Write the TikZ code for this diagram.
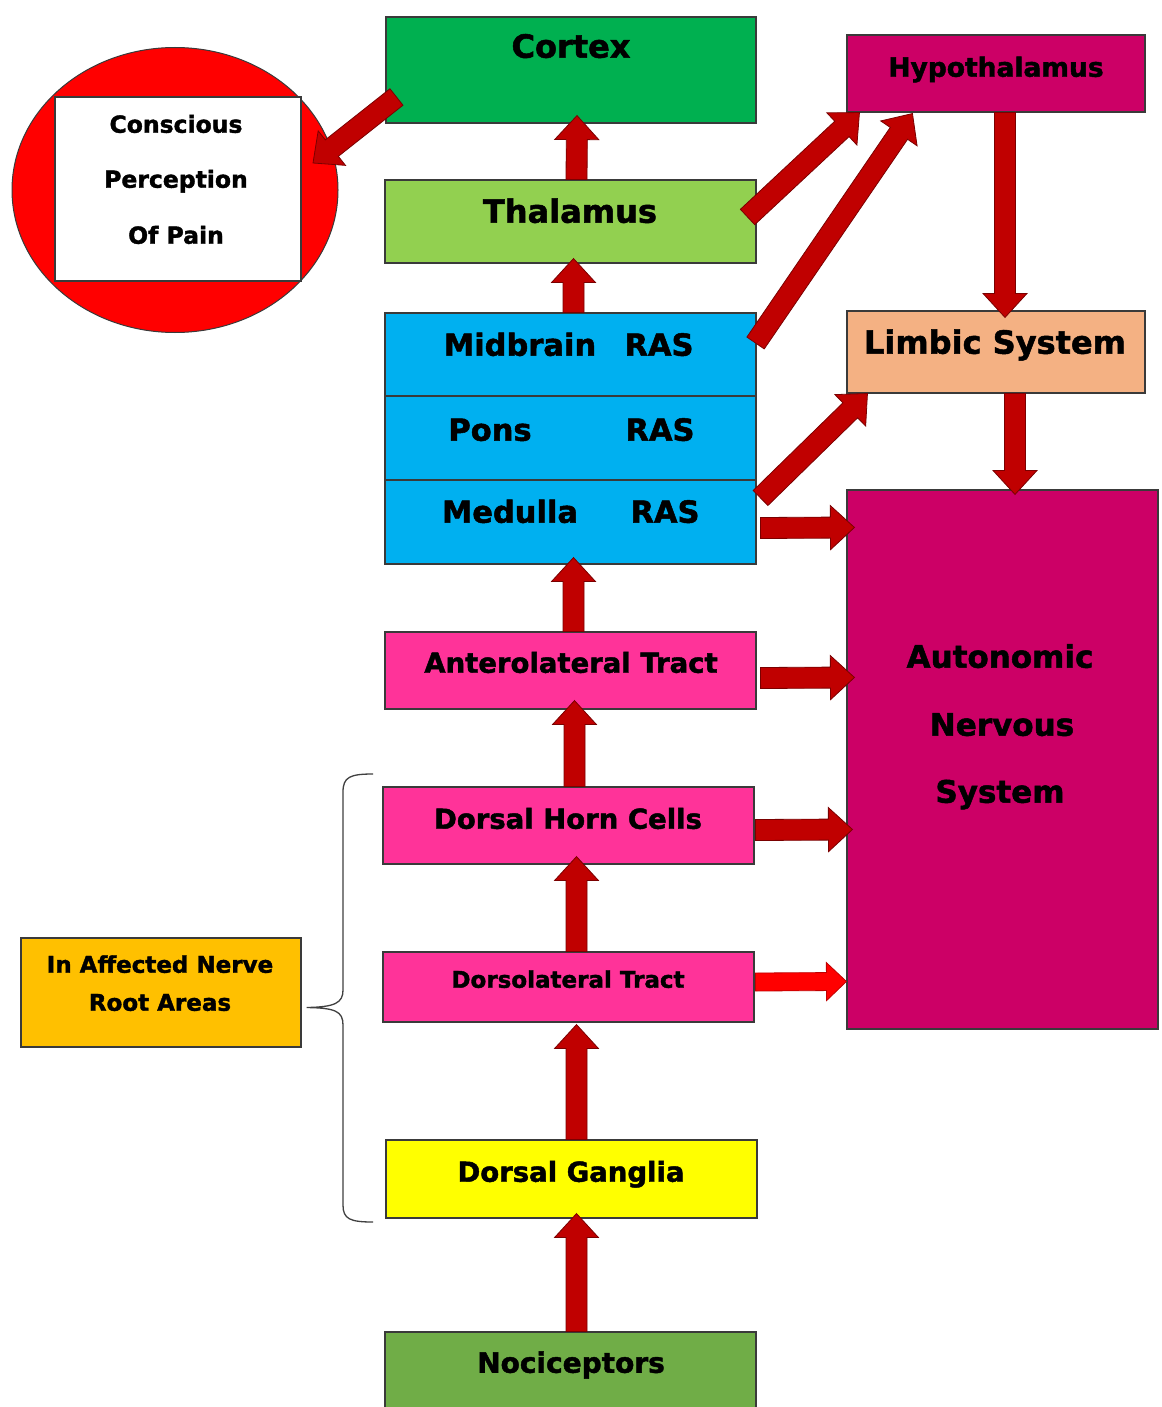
\documentclass[tikz,border=0pt]{standalone}
\usepackage{fontspec}
\setmainfont{DejaVu Sans}[BoldFeatures={FakeBold=1.6}]
\usetikzlibrary{calc,shapes.geometric}
\definecolor{boxedge}{HTML}{3A3A3A}
\definecolor{cortexc}{HTML}{00B050}
\definecolor{hypoc}{HTML}{CC0066}
\definecolor{thalc}{HTML}{92D050}
\definecolor{rasc}{HTML}{00B0F0}
\definecolor{limbc}{HTML}{F4B183}
\definecolor{ansc}{HTML}{CC0066}
\definecolor{tractc}{HTML}{FF3399}
\definecolor{gangc}{HTML}{FFFF00}
\definecolor{nocic}{HTML}{70AD47}
\definecolor{affc}{HTML}{FFC000}
\definecolor{circc}{HTML}{FF0000}
\definecolor{arrfill}{HTML}{C00000}
\definecolor{arredge}{HTML}{7A0000}
\definecolor{arrbright}{HTML}{FF0000}
\tikzset{
  box/.style={draw=boxedge, line width=1.1pt, inner sep=0pt},
  lbl/.style={font=\bfseries\fontsize{#1}{#1}\selectfont, inner sep=0pt, anchor=mid, yshift=-8pt, text=black},
  arr/.style={fill=arrfill, draw=arredge, line width=0.8pt},
  arrb/.style={fill=arrbright, draw=arrfill, line width=0.8pt},
  bracestyle/.style={draw=black!75, line width=1.3pt}
}
\newcommand{\blockarr}[6]{%
  \coordinate (arrtail) at (#2);
  \coordinate (arrtip) at (#3);
  \coordinate (tipbase) at ($(arrtip)!#6!(arrtail)$);
  \filldraw[#1] ($(arrtail)!#4!90:(arrtip)$) -- ($(tipbase)!#4!90:(arrtip)$) -- ($(tipbase)!#5!90:(arrtip)$) -- (arrtip) -- ($(tipbase)!#5!-90:(arrtip)$) -- ($(tipbase)!#4!-90:(arrtip)$) -- ($(arrtail)!#4!-90:(arrtip)$) -- cycle;}
\begin{document}
\begin{tikzpicture}[x=1pt,y=-1pt]
\useasboundingbox (0,0) rectangle (1161,1407);
\fill[white] (0,0) rectangle (1161,1407);

% circle with white box
\node[ellipse, draw=boxedge, line width=1pt, fill=circc, minimum width=326pt, minimum height=285pt, inner sep=0pt] (circ) at (175,190) {};
\node[box, fill=white, minimum width=246pt, minimum height=184pt] (perc) at (178,189) {};
\node[lbl=23.5] (t1) at (176,122) {Conscious};
\node[lbl=23.5] (t2) at (176,177) {Perception};
\node[lbl=23.5] (t3) at (176,233) {Of Pain};

% main column
\node[box, fill=cortexc, minimum width=370pt, minimum height=106pt] (cortex) at (571,70) {};
\node[lbl=32] (tcortex) at (571,47) {Cortex};
\node[box, fill=thalc, minimum width=371pt, minimum height=83pt] (thal) at (570.5,221.5) {};
\node[lbl=32] (tthal) at (570,212) {Thalamus};
\node[box, fill=rasc, minimum width=371pt, minimum height=83pt] (mid) at (570.5,354.5) {};
\node[box, fill=rasc, minimum width=371pt, minimum height=84pt] (pons) at (570.5,438) {};
\node[box, fill=rasc, minimum width=371pt, minimum height=84pt] (med) at (570.5,522) {};
\node[lbl=30.5] (tmid) at (520,345) {Midbrain};
\node[lbl=30.5] (tmidr) at (659,345) {RAS};
\node[lbl=30.5] (tpons) at (490,430) {Pons};
\node[lbl=30.5] (tponsr) at (660,430) {RAS};
\node[lbl=30.5] (tmed) at (510,512) {Medulla};
\node[lbl=30.5] (tmedr) at (665,512) {RAS};
\node[box, fill=tractc, minimum width=371pt, minimum height=77pt] (antero) at (570.5,670.5) {};
\node[lbl=27.5] (tantero) at (571,662) {Anterolateral Tract};
\node[box, fill=tractc, minimum width=371pt, minimum height=77pt] (horn) at (568.5,825.5) {};
\node[lbl=27.5] (thorn) at (568,818) {Dorsal Horn Cells};
\node[box, fill=tractc, minimum width=371pt, minimum height=70pt] (dlat) at (568.5,987) {};
\node[lbl=23] (tdlat) at (568,977) {Dorsolateral Tract};
\node[box, fill=gangc, minimum width=371pt, minimum height=78pt] (gang) at (571.5,1179) {};
\node[lbl=27.5] (tgang) at (571,1171) {Dorsal Ganglia};
\node[box, fill=nocic, minimum width=371pt, minimum height=88pt] (noci) at (570.5,1376) {};
\node[lbl=28] (tnoci) at (571,1362) {Nociceptors};

% right column
\node[box, fill=hypoc, minimum width=298pt, minimum height=77pt] (hypo) at (996,73.5) {};
\node[lbl=26.5] (thypo) at (996,66) {Hypothalamus};
\node[box, fill=limbc, minimum width=298pt, minimum height=82pt] (limb) at (996,352) {};
\node[lbl=32] (tlimb) at (995,343) {Limbic System};
\node[box, fill=ansc, minimum width=311pt, minimum height=539pt] (ans) at (1002.5,759.5) {};
\node[lbl=31] (tans1) at (1000,657) {Autonomic};
\node[lbl=31] (tans2) at (1002,725) {Nervous};
\node[lbl=31] (tans3) at (1000,792) {System};

% left affected box and brace
\node[box, fill=affc, minimum width=280pt, minimum height=109pt] (aff) at (161,992.5) {};
\node[lbl=23] (taff1) at (160,962) {In Affected Nerve};
\node[lbl=23] (taff2) at (160,1000) {Root Areas};
\coordinate (brtop) at (373,774);
\coordinate (brbot) at (373,1222);
\coordinate (brtip) at ($(aff.east)+(5,15)$);
\draw[bracestyle] (brtop) .. controls (350,774) and (343,777) .. (343,792) -- (343,990)
  .. controls (343,1003) and (335,1007) .. (brtip)
  .. controls (335,1008) and (343,1011) .. (343,1025) -- (343,1205)
  .. controls (343,1219) and (350,1222) .. (brbot);

% vertical arrows up the column
\blockarr{arr}{$(thal.north)+(6,0)$}{$(cortex.south)+(6,-8)$}{10.5pt}{22pt}{24pt}
\blockarr{arr}{$(mid.north)+(3,0)$}{$(thal.south)+(3,-5)$}{10.5pt}{22pt}{24pt}
\blockarr{arr}{$(antero.north)+(3,0)$}{$(med.south)+(3,-7)$}{10.5pt}{22pt}{24pt}
\blockarr{arr}{$(horn.north)+(6,0)$}{$(antero.south)+(4,-9)$}{10.5pt}{22pt}{24pt}
\blockarr{arr}{$(dlat.north)+(8,0)$}{$(horn.south)+(8,-8)$}{10.5pt}{22pt}{24pt}
\blockarr{arr}{$(gang.north)+(5,0)$}{$(dlat.south)+(8,2)$}{10.5pt}{22pt}{24pt}
\blockarr{arr}{$(noci.north)+(6,0)$}{$(gang.south)+(5,-5)$}{10.5pt}{22pt}{24pt}

% other arrows
\blockarr{arr}{$(cortex.west)+(11,27)$}{$(circ.center)+(138,-27)$}{10.5pt}{22pt}{24pt}
\blockarr{arr}{$(thal.east)+(-9,-4.5)$}{$(hypo.south west)+(13,0)$}{10.5pt}{22pt}{24pt}
\blockarr{arr}{$(mid.east)+(-1,-11.5)$}{$(hypo.south west)+(66,1)$}{10.5pt}{22pt}{24pt}
\blockarr{arr}{$(hypo.south)+(9,0)$}{$(limb.north)+(9,7)$}{10.5pt}{22pt}{24pt}
\blockarr{arr}{$(limb.south)+(19,0)$}{$(ans.north)+(12.5,5)$}{10.5pt}{22pt}{24pt}
\blockarr{arr}{$(med.east)+(4,-24)$}{$(limb.south west)+(21,0)$}{10.5pt}{22pt}{24pt}
\blockarr{arr}{$(med.east)+(4,6)$}{$(ans.north west)+(8,38)$}{10.5pt}{22pt}{24pt}
\blockarr{arr}{$(antero.east)+(4,7.5)$}{$(ans.north west)+(8,188)$}{10.5pt}{22pt}{24pt}
\blockarr{arr}{$(horn.east)+(1,4.5)$}{$(ans.north west)+(6,340)$}{10.5pt}{22pt}{24pt}
\blockarr{arrb}{$(dlat.east)+(1,-5)$}{$(ans.north west)+(0,492)$}{9pt}{19pt}{20pt}
\end{tikzpicture}
\end{document}
